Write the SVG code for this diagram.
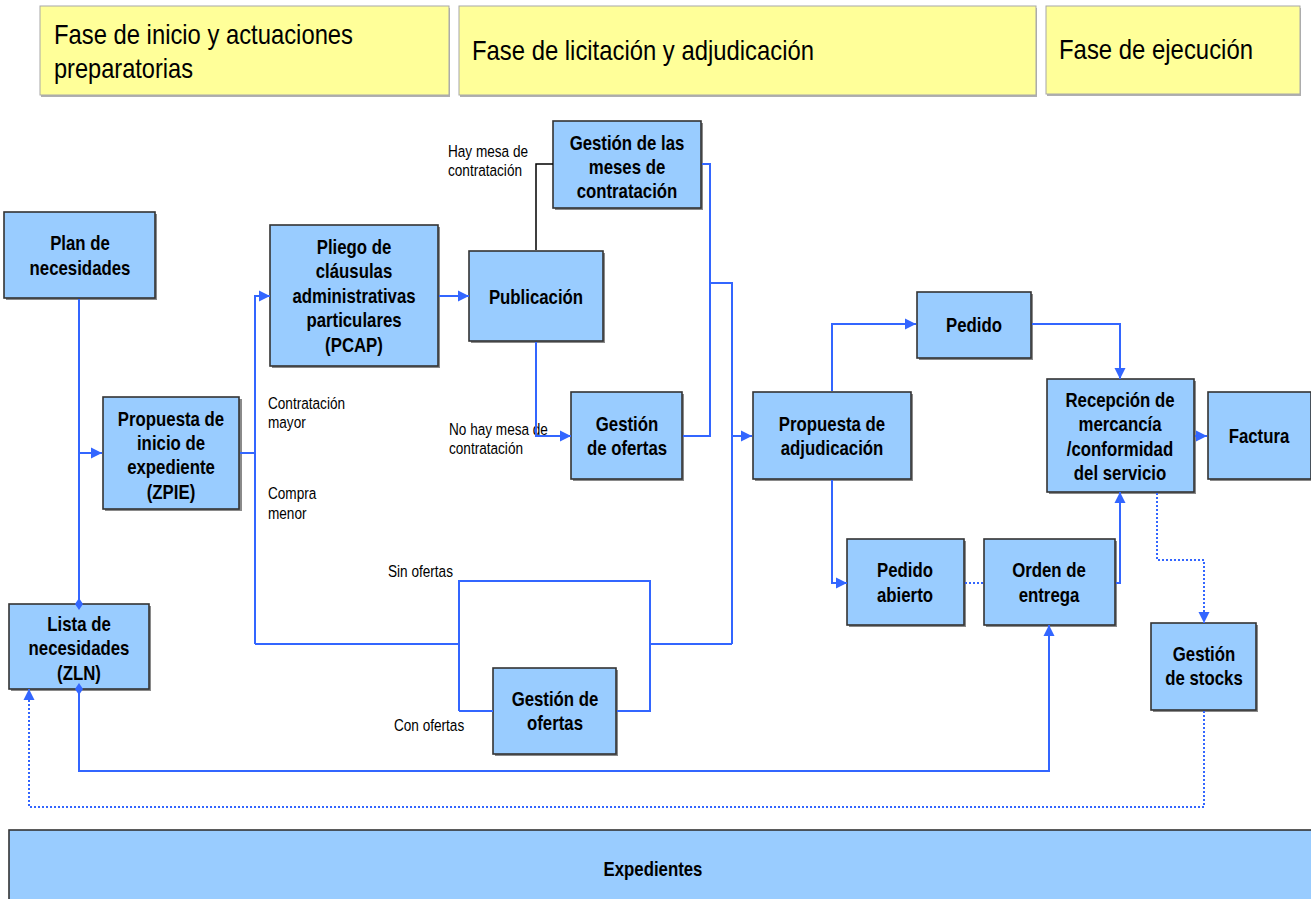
<svg xmlns="http://www.w3.org/2000/svg" width="1311" height="899" viewBox="0 0 1311 899">
<style>
.hdr{fill:#FFFF99;stroke:#A8A8A8;stroke-width:1}
.hsh{fill:#B0B0B0}
.box{fill:#99CCFF;stroke:#333333;stroke-width:1.6}
.sh{fill:#8A8A8A}
.ht{font-family:"Liberation Sans",Arial,sans-serif;font-size:28px;fill:#000}
.n{font-family:"Liberation Sans",Arial,sans-serif;font-size:20px;font-weight:bold;fill:#000;text-anchor:middle}
.l{font-family:"Liberation Sans",Arial,sans-serif;font-size:17px;fill:#000}
.c{fill:none;stroke:#3366FF;stroke-width:2}
.d{fill:none;stroke:#3366FF;stroke-width:2;stroke-dasharray:2 2}
.k{fill:none;stroke:#000;stroke-width:1.5}
</style>
<defs>
<marker id="ar" markerUnits="userSpaceOnUse" markerWidth="12" markerHeight="12" refX="11" refY="6" orient="auto"><path d="M0,0.5 L11,6 L0,11.5 z" fill="#3366FF"/></marker>
<marker id="dm" markerUnits="userSpaceOnUse" markerWidth="12" markerHeight="10" refX="6" refY="5" orient="auto"><path d="M0,5 L6,1 L12,5 L6,9 z" fill="#3366FF"/></marker>
</defs>
<rect width="1311" height="899" fill="#fff"/>

<g id="phases">
<rect class="hsh" x="41" y="8" width="409" height="89"/>
<rect class="hdr" x="40" y="6" width="409" height="89"/>
<text class="ht" x="54" y="44" textLength="299" lengthAdjust="spacingAndGlyphs">Fase de inicio y actuaciones</text>
<text class="ht" x="54" y="78" textLength="139" lengthAdjust="spacingAndGlyphs">preparatorias</text>
<rect class="hsh" x="460" y="8" width="577" height="89"/>
<rect class="hdr" x="459" y="6" width="577" height="89"/>
<text class="ht" x="472" y="60" textLength="342" lengthAdjust="spacingAndGlyphs">Fase de licitación y adjudicación</text>
<rect class="hsh" x="1047" y="8" width="254" height="88"/>
<rect class="hdr" x="1046" y="6" width="254" height="88"/>
<text class="ht" x="1059" y="59" textLength="194" lengthAdjust="spacingAndGlyphs">Fase de ejecución</text>
</g>

<g class="l">
<text transform="translate(448,0) scale(0.8,1)"><tspan x="0" y="157">Hay mesa de</tspan><tspan x="0" y="176">contratación</tspan></text>
<text transform="translate(449,0) scale(0.8,1)"><tspan x="0" y="435">No hay mesa de</tspan><tspan x="0" y="454">contratación</tspan></text>
<text transform="translate(268,0) scale(0.8,1)"><tspan x="0" y="409">Contratación</tspan><tspan x="0" y="428">mayor</tspan></text>
<text transform="translate(268,0) scale(0.8,1)"><tspan x="0" y="499">Compra</tspan><tspan x="0" y="519">menor</tspan></text>
<text transform="translate(388,0) scale(0.8,1)"><tspan x="0" y="577">Sin ofertas</tspan></text>
<text transform="translate(394,0) scale(0.8,1)"><tspan x="0" y="731">Con ofertas</tspan></text>
</g>

<g id="plan">
<rect class="sh" x="6" y="214" width="151" height="86"/>
<rect class="box" x="4" y="212" width="151" height="86"/>
<text class="n" transform="translate(80,0) scale(0.84,1)"><tspan x="0" y="250">Plan de</tspan><tspan x="0" y="275">necesidades</tspan></text>
</g>
<g id="zpie">
<rect class="sh" x="105" y="399" width="137" height="112"/>
<rect class="box" x="103" y="397" width="136" height="112"/>
<text class="n" transform="translate(171,0) scale(0.84,1)"><tspan x="0" y="426">Propuesta de</tspan><tspan x="0" y="450">inicio de</tspan><tspan x="0" y="474.5">expediente</tspan><tspan x="0" y="499">(ZPIE)</tspan></text>
</g>
<g id="zln">
<rect class="sh" x="11" y="606" width="140" height="85"/>
<rect class="box" x="9" y="604" width="140" height="85"/>
<text class="n" transform="translate(79,0) scale(0.84,1)"><tspan x="0" y="631">Lista de</tspan><tspan x="0" y="655.5">necesidades</tspan><tspan x="0" y="680">(ZLN)</tspan></text>
</g>
<g id="pcap">
<rect class="sh" x="272" y="227" width="168" height="141"/>
<rect class="box" x="270" y="225" width="168" height="141"/>
<text class="n" transform="translate(354,0) scale(0.84,1)"><tspan x="0" y="254">Pliego de</tspan><tspan x="0" y="278.5">cláusulas</tspan><tspan x="0" y="303">administrativas</tspan><tspan x="0" y="327.5">particulares</tspan><tspan x="0" y="352">(PCAP)</tspan></text>
</g>
<g id="publicacion">
<rect class="sh" x="471" y="253" width="134" height="90"/>
<rect class="box" x="469" y="251" width="134" height="90"/>
<text class="n" transform="translate(536,0) scale(0.84,1)"><tspan x="0" y="304">Publicación</tspan></text>
</g>
<g id="mesas">
<rect class="sh" x="555" y="123" width="148" height="87"/>
<rect class="box" x="553" y="121" width="148" height="87"/>
<text class="n" transform="translate(627,0) scale(0.84,1)"><tspan x="0" y="150">Gestión de las</tspan><tspan x="0" y="174">meses de</tspan><tspan x="0" y="198">contratación</tspan></text>
</g>
<g id="ofertas1">
<rect class="sh" x="573" y="394" width="111" height="87"/>
<rect class="box" x="571" y="392" width="111" height="87"/>
<text class="n" transform="translate(627,0) scale(0.84,1)"><tspan x="0" y="431">Gestión</tspan><tspan x="0" y="455.5">de ofertas</tspan></text>
</g>
<g id="ofertas2">
<rect class="sh" x="495" y="670" width="123" height="86"/>
<rect class="box" x="493" y="668" width="123" height="86"/>
<text class="n" transform="translate(555,0) scale(0.84,1)"><tspan x="0" y="706">Gestión de</tspan><tspan x="0" y="730.5">ofertas</tspan></text>
</g>
<g id="adjudicacion">
<rect class="sh" x="755" y="394" width="158" height="87"/>
<rect class="box" x="753" y="392" width="158" height="87"/>
<text class="n" transform="translate(832,0) scale(0.84,1)"><tspan x="0" y="431">Propuesta de</tspan><tspan x="0" y="455.5">adjudicación</tspan></text>
</g>
<g id="pedido">
<rect class="sh" x="919" y="294" width="114" height="66"/>
<rect class="box" x="917" y="292" width="114" height="66"/>
<text class="n" transform="translate(974,0) scale(0.84,1)"><tspan x="0" y="332">Pedido</tspan></text>
</g>
<g id="recepcion">
<rect class="sh" x="1049" y="381" width="147" height="113"/>
<rect class="box" x="1047" y="379" width="147" height="113"/>
<text class="n" transform="translate(1120,0) scale(0.84,1)"><tspan x="0" y="407">Recepción de</tspan><tspan x="0" y="431.5">mercancía</tspan><tspan x="0" y="456">/conformidad</tspan><tspan x="0" y="480.5">del servicio</tspan></text>
</g>
<g id="factura">
<rect class="sh" x="1210" y="394" width="103" height="87"/>
<rect class="box" x="1208" y="392" width="103" height="87"/>
<text class="n" transform="translate(1259,0) scale(0.84,1)"><tspan x="0" y="443">Factura</tspan></text>
</g>
<g id="pedidoabierto">
<rect class="sh" x="849" y="541" width="117" height="86"/>
<rect class="box" x="847" y="539" width="117" height="86"/>
<text class="n" transform="translate(905,0) scale(0.84,1)"><tspan x="0" y="577.5">Pedido</tspan><tspan x="0" y="602">abierto</tspan></text>
</g>
<g id="orden">
<rect class="sh" x="986" y="541" width="131" height="86"/>
<rect class="box" x="984" y="539" width="131" height="86"/>
<text class="n" transform="translate(1049,0) scale(0.84,1)"><tspan x="0" y="577.5">Orden de</tspan><tspan x="0" y="602">entrega</tspan></text>
</g>
<g id="stocks">
<rect class="sh" x="1153" y="625" width="105" height="87"/>
<rect class="box" x="1151" y="623" width="105" height="87"/>
<text class="n" transform="translate(1204,0) scale(0.84,1)"><tspan x="0" y="661">Gestión</tspan><tspan x="0" y="685.5">de stocks</tspan></text>
</g>
<g id="expedientes">
<rect class="box" x="9" y="830" width="1310" height="80"/>
<text class="n" transform="translate(653,0) scale(0.84,1)"><tspan x="0" y="876">Expedientes</tspan></text>
</g>

<g id="connectors">
<path class="c" d="M79,299 V604" marker-end="url(#dm)"/>
<path class="c" d="M79,453 H102" marker-end="url(#ar)"/>
<path class="c" d="M240,453 H255"/>
<path class="c" d="M255,644 V296 H270" marker-end="url(#ar)"/>
<path class="c" d="M439,296 H469" marker-end="url(#ar)"/>
<path class="k" d="M536,250 V164 H553"/>
<path class="c" d="M536,342 V436 H571" marker-end="url(#ar)"/>
<path class="c" d="M702,164 H710 V436 H683"/>
<path class="c" d="M710,283 H732 V644"/>
<path class="c" d="M732,436 H752" marker-end="url(#ar)"/>
<path class="c" d="M255,644 H459"/>
<path class="c" d="M459,711 V581 H650 V711 H617"/>
<path class="c" d="M459,711 H493"/>
<path class="c" d="M650,644 H732"/>
<path class="c" d="M832,391 V324 H916" marker-end="url(#ar)"/>
<path class="c" d="M1032,324 H1120 V379" marker-end="url(#ar)"/>
<path class="c" d="M1195,436 H1207" marker-end="url(#ar)"/>
<path class="c" d="M832,480 V583 H847" marker-end="url(#ar)"/>
<path class="d" d="M965,583 H984"/>
<path class="c" d="M1116,583 H1120 V492" marker-end="url(#ar)"/>
<path class="d" d="M1157,493 V560 H1204 V623" marker-end="url(#ar)"/>
<path class="d" d="M1204,711 V807 H29 V689" marker-end="url(#ar)"/>
<path class="c" d="M79,689 V771 H1049 V625" marker-start="url(#dm)" marker-end="url(#ar)"/>
</g>
</svg>
